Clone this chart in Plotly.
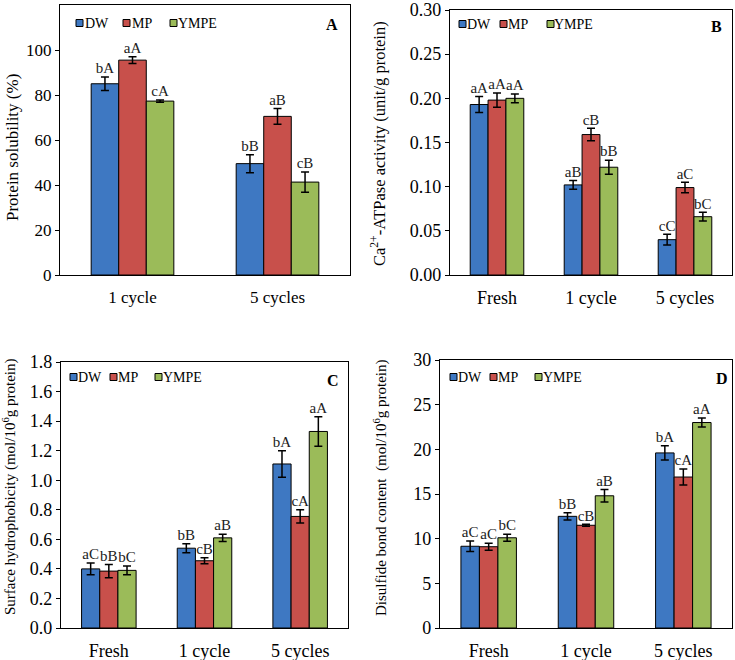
import plotly.graph_objects as go

W, H = 735, 660

series = ["DW", "MP", "YMPE"]
colors = ["#3E78C2", "#C8504B", "#9BBB59"]

# Panel A - protein solubility (%)
a_cats = ["1 cycle", "5 cycles"]
a_vals = [[85.0, 49.5], [95.5, 70.5], [77.3, 41.3]]
a_errs = [[3.0, 4.0], [1.5, 3.5], [0.5, 4.5]]
a_sig = [["bA", "bB"], ["aA", "aB"], ["cA", "cB"]]

# Panel B - Ca2+-ATPase activity
b_cats = ["Fresh", "1 cycle", "5 cycles"]
b_vals = [[0.193, 0.102, 0.040], [0.198, 0.159, 0.099], [0.200, 0.122, 0.066]]
b_errs = [[0.009, 0.005, 0.006], [0.008, 0.007, 0.006], [0.005, 0.008, 0.005]]
b_sig = [["aA", "aB", "cC"], ["aA", "cB", "aC"], ["aA", "bB", "bC"]]

# Panel C - surface hydrophobicity
c_cats = ["Fresh", "1 cycle", "5 cycles"]
c_vals = [[0.40, 0.54, 1.11], [0.385, 0.455, 0.755], [0.39, 0.61, 1.33]]
c_errs = [[0.04, 0.03, 0.09], [0.045, 0.02, 0.045], [0.03, 0.025, 0.10]]
c_sig = [["aC", "bB", "bA"], ["bB", "cB", "cA"], ["bC", "aB", "aA"]]

# Panel D - disulfide bond content
d_cats = ["Fresh", "1 cycle", "5 cycles"]
d_vals = [[9.15, 12.5, 19.6], [9.1, 11.5, 16.9], [10.1, 14.8, 23.0]]
d_errs = [[0.6, 0.4, 0.8], [0.4, 0.1, 0.9], [0.4, 0.7, 0.5]]
d_sig = [["aC", "bB", "bA"], ["aC", "cB", "cA"], ["bC", "aB", "aA"]]

FONT = "Liberation Serif"
bw = 0.19


def px(x):
    return x / W


def py(y):
    return 1 - y / H


panels = [
    dict(cats=a_cats, vals=a_vals, errs=a_errs, sig=a_sig, ax="", letter="A",
         box=(60, 350, 5, 275), yrange=[0, 120], tickvals=[0, 20, 40, 60, 80, 100], fmt="d",
         title="Protein solubility (%)", tsize=17, tpos=(12, 148), tick=17, cat=17,
         leg_y=23, leg=[(76, 85), (123, 132), (170, 178)], lpos=(332, 25)),
    dict(cats=b_cats, vals=b_vals, errs=b_errs, sig=b_sig, ax="2", letter="B",
         box=(450, 732, 10, 275), yrange=[0, 0.30], tickvals=[0, 0.05, 0.1, 0.15, 0.2, 0.25, 0.3], fmt=".2f",
         title="Ca<sup>2+</sup>-ATPase activity (unit/g protein)", tsize=16.5, tpos=(378, 143), tick=18, cat=18,
         leg_y=24, leg=[(459, 467), (500, 508), (547, 554)], lpos=(716, 26)),
    dict(cats=c_cats, vals=c_vals, errs=c_errs, sig=c_sig, ax="3", letter="C",
         box=(61, 348, 362, 628), yrange=[0, 1.8], tickvals=[0, 0.2, 0.4, 0.6, 0.8, 1.0, 1.2, 1.4, 1.6, 1.8], fmt=".1f",
         title="Surface hydrophobicity (mol/10<sup>6</sup>g protein)", tsize=15, tpos=(9, 487), tick=18, cat=18,
         leg_y=377, leg=[(70, 78), (110, 118), (155, 163)], lpos=(333, 380)),
    dict(cats=d_cats, vals=d_vals, errs=d_errs, sig=d_sig, ax="4", letter="D",
         box=(440, 732, 360, 628), yrange=[0, 30], tickvals=[0, 5, 10, 15, 20, 25, 30], fmt="d",
         title="Disulfide bond content  (mol/10<sup>6</sup>g protein)", tsize=15, tpos=(380, 488), tick=18, cat=18,
         leg_y=377, leg=[(450, 458), (490, 498), (535, 543)], lpos=(722, 378)),
]

fig = go.Figure()
layout = dict(width=W, height=H, margin=dict(l=0, r=0, t=0, b=0), autosize=False,
              paper_bgcolor="white", plot_bgcolor="white",
              font=dict(family=FONT, color="black"), showlegend=False,
              barmode="overlay")
annotations = []
shapes = []

for p in panels:
    xa, ya = "x" + p["ax"], "y" + p["ax"]
    n = len(p["cats"])
    for j, name in enumerate(series):
        xs = [i + (j - 1) * bw for i in range(n)]
        fig.add_trace(go.Bar(
            x=xs, y=p["vals"][j], width=bw, name=name, xaxis=xa, yaxis=ya,
            marker=dict(color=colors[j], line=dict(color="black", width=1)),
            error_y=dict(type="data", array=p["errs"][j], color="black", thickness=1.5, width=4),
        ))
        fig.add_trace(go.Scatter(
            x=xs, y=[v + e for v, e in zip(p["vals"][j], p["errs"][j])],
            text=p["sig"][j], mode="text", textposition="top center",
            textfont=dict(family=FONT, size=15, color="#222"),
            xaxis=xa, yaxis=ya, hoverinfo="skip",
        ))
    x0, x1, y0, y1 = p["box"]
    layout["xaxis" + p["ax"]] = dict(
        domain=[px(x0), px(x1)], anchor=ya, range=[-0.5, n - 0.5], automargin=False,
        tickvals=list(range(n)), ticktext=p["cats"], showline=True, mirror=True,
        linecolor="black", linewidth=1.2, ticks="", showgrid=False, zeroline=False,
        tickfont=dict(size=p["cat"]), ticklabelstandoff=6, ticklabeloverflow="allow",
    )
    layout["yaxis" + p["ax"]] = dict(
        domain=[py(y1), py(y0)], anchor=xa, range=p["yrange"], tickvals=p["tickvals"],
        tickformat=p["fmt"], showline=True, mirror=True, linecolor="black", linewidth=1.2,
        ticks="outside", ticklen=4, tickcolor="black", showgrid=False, zeroline=False,
        tickfont=dict(size=p["tick"]), automargin=False, ticklabeloverflow="allow",
    )
    # y axis title
    annotations.append(dict(x=px(p["tpos"][0]), y=py(p["tpos"][1]), xref="paper", yref="paper",
                            text=p["title"], textangle=-90, showarrow=False,
                            font=dict(size=p["tsize"]), xanchor="center", yanchor="middle"))
    # panel letter
    annotations.append(dict(x=px(p["lpos"][0]), y=py(p["lpos"][1]), xref="paper", yref="paper",
                            text="<b>" + p["letter"] + "</b>", showarrow=False,
                            font=dict(size=16), xanchor="center", yanchor="middle"))
    # legend: boxed swatch + label
    for j, name in enumerate(series):
        sx, tx = p["leg"][j]
        ly = p["leg_y"]
        shapes.append(dict(type="rect", xref="paper", yref="paper",
                           x0=px(sx), x1=px(sx + 7), y0=py(ly + 3.5), y1=py(ly - 3.5),
                           fillcolor=colors[j], line=dict(color="black", width=1)))
        annotations.append(dict(x=px(tx - 2), y=py(ly), xref="paper", yref="paper",
                                text=name, showarrow=False, font=dict(size=14),
                                xanchor="left", yanchor="middle"))

layout["annotations"] = annotations
layout["shapes"] = shapes
fig.update_layout(**layout)

# drop the default page margin so the figure sits at the window's corner
fig.write_html("out.html", config={"displayModeBar": False, "responsive": False},
               post_script="document.body.style.margin='0';")
